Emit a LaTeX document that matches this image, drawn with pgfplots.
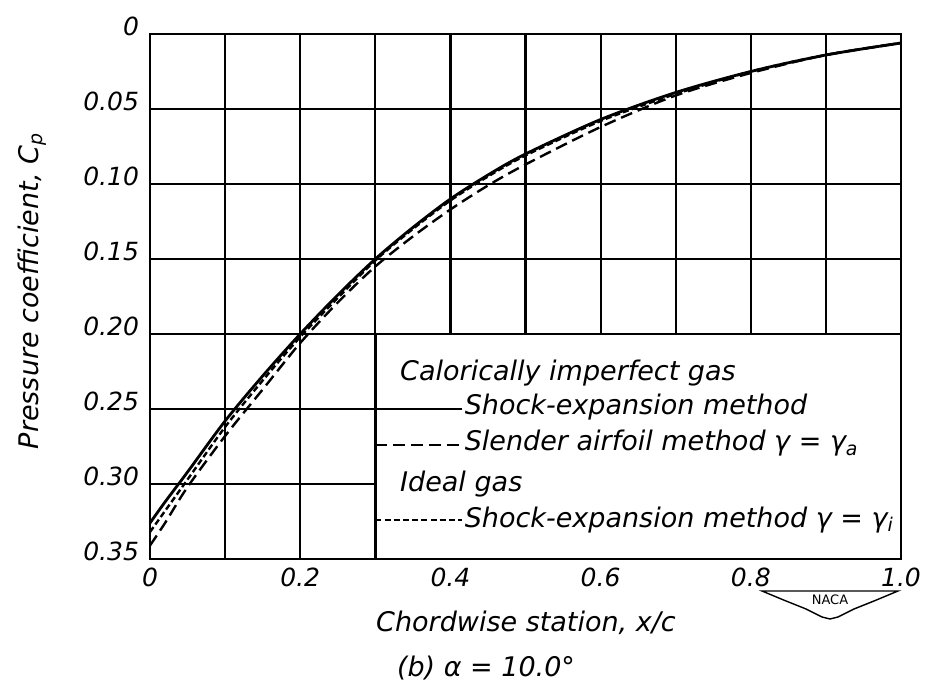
\documentclass[border=0pt]{standalone}
\usepackage{fontspec}
\setmainfont{DejaVu Sans}
\usepackage{pgfplots}
\pgfplotsset{compat=1.18}
\newcommand{\lab}{\fontsize{13.5}{16}\selectfont\itshape}
\begin{document}
\begin{tikzpicture}
\begin{axis}[
  at={(0pt,0pt)}, anchor=south west,
  width=375.5pt, height=262.5pt, scale only axis,
  xmin=0, xmax=1, ymin=0, ymax=0.35, y dir=reverse,
  xtick={0,0.2,0.4,0.6,0.8,1.0},
  xticklabels={0,0.2,0.4,0.6,0.8,1.0},
  minor xtick={0.1,0.3,0.5,0.7,0.9},
  ytick={0,0.05,0.10,0.15,0.20,0.25,0.30,0.35},
  yticklabels={0,0.05,0.10,0.15,0.20,0.25,0.30,0.35},
  grid=both,
  major grid style={black, line width=1.1pt},
  minor grid style={black, line width=1.1pt},
  major tick length=0pt, minor tick length=0pt,
  axis line style={black, line width=1.3pt},
  tick label style={font=\fontsize{12.5}{14}\selectfont\itshape},
  yticklabel style={yshift=4pt, xshift=-2pt},
  xticklabel style={yshift=-1pt},
  clip=false,
]
% Calorically imperfect gas, shock-expansion method
\addplot[black, line width=1.4pt, smooth] coordinates {
(0,0.326) (0.02,0.312) (0.05,0.292) (0.1,0.258) (0.15,0.228) (0.2,0.200)
(0.25,0.174) (0.3,0.150) (0.35,0.129) (0.4,0.110) (0.45,0.094) (0.5,0.080)
(0.6,0.057) (0.7,0.039) (0.8,0.025) (0.9,0.014) (1.0,0.006)};
% Slender airfoil method
\addplot[black, line width=1.2pt, smooth, dash pattern=on 6pt off 3pt] coordinates {
(0,0.341) (0.02,0.326) (0.05,0.302) (0.1,0.268) (0.15,0.237) (0.2,0.206)
(0.25,0.179) (0.3,0.155) (0.35,0.135) (0.4,0.117) (0.45,0.101) (0.5,0.087)
(0.6,0.062) (0.7,0.041) (0.8,0.026) (0.9,0.014) (1.0,0.006)};
% Ideal gas, shock-expansion method
\addplot[black, line width=1.2pt, smooth, dash pattern=on 3pt off 1.6pt] coordinates {
(0,0.332) (0.02,0.318) (0.05,0.297) (0.1,0.262) (0.15,0.231) (0.2,0.202)
(0.25,0.176) (0.3,0.151) (0.35,0.130) (0.4,0.111) (0.45,0.095) (0.5,0.081)
(0.6,0.058) (0.7,0.040) (0.8,0.025) (0.9,0.014) (1.0,0.006)};
% legend box
\draw[fill=white, line width=1.3pt] (axis cs:0.3,0.2) rectangle (axis cs:1,0.35);
\draw[line width=1.3pt] (axis cs:0.3,0.25) -- (axis cs:0.416,0.25);
\draw[line width=1.2pt, dash pattern=on 6pt off 3pt] (axis cs:0.3,0.274) -- (axis cs:0.416,0.274);
\draw[line width=1.2pt, dash pattern=on 3pt off 1.6pt] (axis cs:0.3,0.324) -- (axis cs:0.416,0.324);
\node[anchor=west, inner sep=1pt, font=\lab] at (axis cs:0.33,0.226) {Calorically imperfect gas};
\node[anchor=west, inner sep=1pt, font=\lab] at (axis cs:0.416,0.249) {Shock-expansion method};
\node[anchor=west, inner sep=1pt, font=\lab] at (axis cs:0.416,0.273) {Slender airfoil method γ = γ\textsubscript{a}};
\node[anchor=west, inner sep=1pt, font=\lab] at (axis cs:0.33,0.300) {Ideal gas};
\node[anchor=west, inner sep=1pt, font=\lab] at (axis cs:0.416,0.324) {Shock-expansion method γ = γ\textsubscript{i}};
\end{axis}
\node[font=\lab] at (188pt,-32pt) {Chordwise station, x/c};
\node[font=\lab] at (168pt,-54.5pt) {(b) α = 10.0°};
\node[font=\lab, rotate=90] at (-59pt,134pt) {Pressure coefficient, C\textsubscript{p}};
% NACA logo
\begin{scope}[shift={(340pt,-21pt)}]
\draw[line width=0.7pt] (-34pt,5pt) -- (34pt,5pt) -- (22pt,0pt) -- (12pt,-4pt) -- (4pt,-8pt) -- (0pt,-9pt) -- (-4pt,-8pt) -- (-12pt,-4pt) -- (-22pt,0pt) -- cycle;
\node[font=\fontsize{6.5}{7}\selectfont] at (0pt,0.5pt) {NACA};
\end{scope}
\pgfresetboundingbox
\useasboundingbox (-75pt,-70.5pt) rectangle (388.5pt,279.5pt);
\end{tikzpicture}
\end{document}
